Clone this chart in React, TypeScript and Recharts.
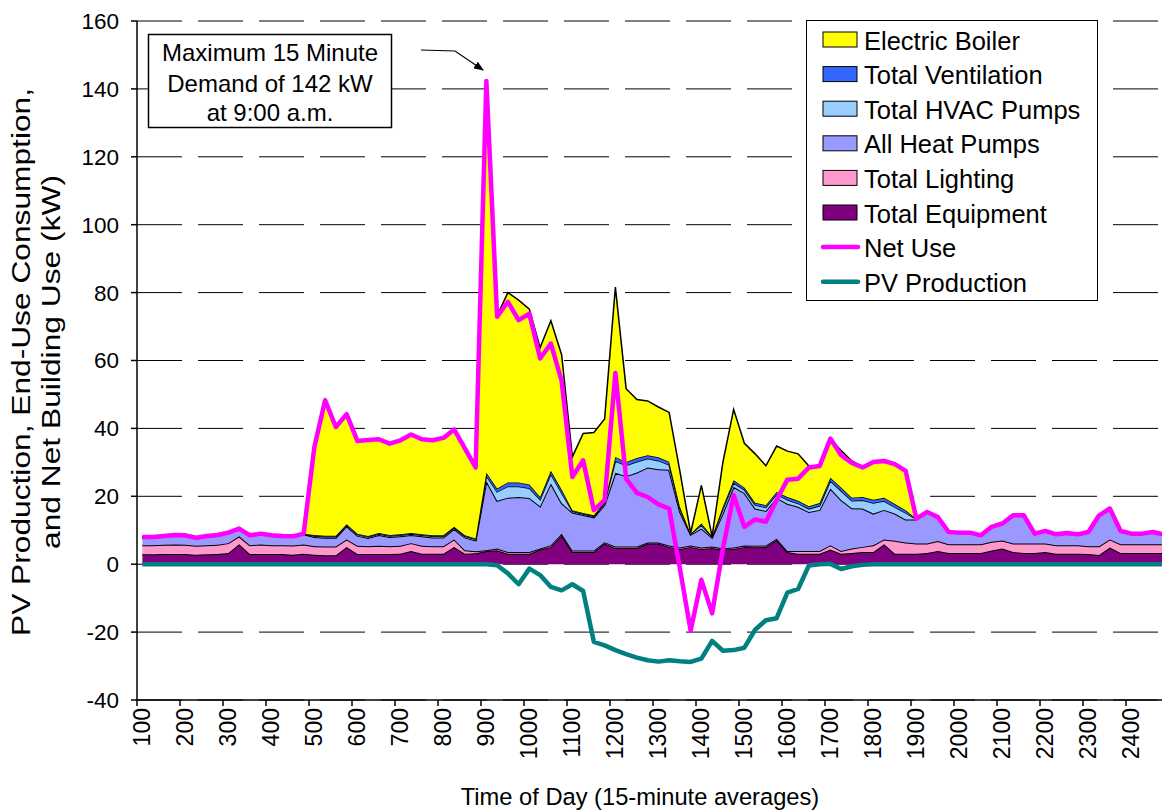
import React from "react";
import { ComposedChart, Area, Line, XAxis, YAxis, CartesianGrid } from "recharts";

// 15-minute interval labels (hhmm without leading zero)
const TIMES = [
  "100", "115", "130", "145", "200", "215", "230", "245", "300", "315", "330", "345",
  "400", "415", "430", "445", "500", "515", "530", "545", "600", "615", "630", "645",
  "700", "715", "730", "745", "800", "815", "830", "845", "900", "915", "930", "945",
  "1000", "1015", "1030", "1045", "1100", "1115", "1130", "1145", "1200", "1215", "1230", "1245",
  "1300", "1315", "1330", "1345", "1400", "1415", "1430", "1445", "1500", "1515", "1530", "1545",
  "1600", "1615", "1630", "1645", "1700", "1715", "1730", "1745", "1800", "1815", "1830", "1845",
  "1900", "1915", "1930", "1945", "2000", "2015", "2030", "2045", "2100", "2115", "2130", "2145",
  "2200", "2215", "2230", "2245", "2300", "2315", "2330", "2345", "2400", "2415", "2430", "2445",
];

const EQUIPMENT = [
  2.9, 2.9, 3.0, 3.0, 3.0, 2.8, 2.9, 3.0, 3.3, 5.9, 3.0, 3.0, 3.0, 3.0, 2.8, 3.1,
  2.8, 2.6, 2.6, 5.1, 3.0, 3.0, 3.0, 3.0, 3.1, 3.9, 3.1, 3.1, 3.1, 5.1, 3.1, 3.2,
  3.9, 4.1, 3.1, 3.1, 3.1, 4.3, 5.1, 8.5, 3.6, 3.6, 3.6, 6.1, 4.8, 4.8, 4.8, 6.1,
  6.1, 5.1, 4.5, 5.1, 4.5, 4.8, 4.3, 4.5, 5.1, 5.0, 5.1, 7.1, 3.6, 3.1, 3.1, 3.1,
  4.3, 3.1, 3.3, 3.6, 3.6, 5.9, 3.1, 3.1, 3.1, 3.3, 3.9, 3.3, 3.3, 3.3, 3.3, 4.0,
  4.6, 3.6, 3.3, 3.3, 3.6, 3.1, 3.1, 3.1, 3.0, 2.7, 4.9, 3.3, 3.3, 3.3, 3.3, 3.3,
];

const LIGHTING = [
  2.7, 2.7, 2.7, 2.8, 2.7, 2.6, 2.7, 2.7, 2.9, 2.3, 2.6, 2.8, 2.6, 2.6, 2.7, 2.7,
  2.5, 2.6, 2.6, 2.2, 2.4, 2.3, 2.4, 2.3, 2.3, 2.3, 2.3, 2.2, 2.2, 2.2, 1.0, 0.6,
  0.2, 0.5, 0.5, 0.5, 0.5, 0.3, 0.5, 0.5, 0.4, 0.4, 0.4, 0.4, 0.4, 0.4, 0.4, 0.3,
  0.3, 0.4, 0.4, 0.4, 0.4, 0.4, 0.4, 0.4, 0.4, 0.4, 0.4, 0.4, 0.3, 0.8, 0.8, 0.8,
  1.3, 0.8, 1.3, 1.5, 2.0, 1.4, 3.8, 3.3, 3.0, 2.8, 2.9, 2.6, 2.6, 2.6, 2.6, 2.6,
  2.4, 2.5, 2.8, 2.8, 2.5, 2.5, 2.5, 2.5, 2.3, 2.6, 2.4, 2.6, 2.6, 2.6, 2.6, 2.6,
];

const HEAT_PUMPS = [
  2.2, 2.2, 2.4, 2.6, 2.6, 2.2, 2.5, 2.7, 2.9, 2.1, 2.7, 3.0, 2.7, 2.5, 2.5, 3.0,
  2.7, 2.6, 2.6, 3.9, 3.0, 2.4, 3.2, 2.7, 2.8, 2.4, 2.8, 2.6, 2.6, 3.1, 3.8, 3.2,
  20.4, 14.1, 16.0, 16.2, 15.9, 12.5, 18.2, 9.0, 11.2, 10.5, 9.8, 11.0, 21.7, 20.7, 21.8, 22.1,
  21.6, 22.3, 10.6, 3.2, 5.6, 2.6, 10.3, 17.9, 15.5, 11.0, 10.2, 12.1, 13.9, 13.0, 11.5, 12.1,
  16.7, 15.0, 11.9, 11.3, 9.3, 8.7, 8.0, 6.8, 7.1, 9.1, 6.9, 3.4, 3.2, 3.2, 2.4, 4.2,
  4.8, 8.1, 8.1, 2.7, 3.5, 3.0, 3.4, 3.0, 4.0, 8.9, 8.9, 3.7, 2.9, 2.9, 3.4, 2.7,
];

const HVAC_PUMPS = [
  0.1, 0.1, 0.1, 0.1, 0.1, 0.1, 0.1, 0.1, 0.1, 0.1, 0.1, 0.1, 0.1, 0.1, 0.1, 0.1,
  0.3, 0.3, 0.3, 0.3, 0.3, 0.3, 0.3, 0.3, 0.3, 0.3, 0.3, 0.3, 0.3, 0.3, 0.3, 0.3,
  1.5, 2.6, 3.3, 3.1, 2.9, 1.9, 2.7, 3.0, 0.4, 0.3, 0.3, 0.5, 3.5, 3.2, 3.2, 2.6,
  2.5, 1.5, 0.9, 0.2, 1.0, 0.2, 1.2, 1.1, 0.9, 1.0, 1.0, 1.0, 1.2, 1.0, 0.9, 1.2,
  2.2, 2.7, 2.2, 2.4, 3.1, 2.6, 1.9, 1.9, 0.1, 0.1, 0.1, 0.1, 0.1, 0.1, 0.1, 0.1,
  0.1, 0.1, 0.1, 0.1, 0.1, 0.1, 0.1, 0.1, 0.1, 0.1, 0.1, 0.1, 0.1, 0.1, 0.1, 0.1,
];

const VENTILATION = [
  0.1, 0.1, 0.1, 0.1, 0.1, 0.1, 0.1, 0.1, 0.1, 0.1, 0.1, 0.1, 0.1, 0.1, 0.1, 0.1,
  0.3, 0.3, 0.3, 0.3, 0.3, 0.3, 0.3, 0.3, 0.3, 0.3, 0.3, 0.3, 0.3, 0.3, 0.3, 0.3,
  0.9, 1.0, 1.2, 1.2, 1.1, 0.8, 1.0, 1.0, 0.3, 0.3, 0.3, 0.4, 1.2, 1.0, 1.1, 1.0,
  1.0, 0.9, 0.5, 0.1, 0.5, 0.2, 0.7, 0.8, 0.7, 0.7, 0.7, 0.7, 0.8, 0.8, 0.8, 0.8,
  1.0, 1.0, 0.9, 1.0, 1.0, 1.0, 0.9, 0.8, 0.1, 0.1, 0.1, 0.1, 0.1, 0.1, 0.1, 0.1,
  0.1, 0.1, 0.1, 0.1, 0.1, 0.1, 0.1, 0.1, 0.1, 0.1, 0.1, 0.1, 0.1, 0.1, 0.1, 0.1,
];

const BOILER = [
  0, 0, 0, 0, 0, 0, 0, 0, 0, 0, 0, 0, 0, 0, 0, 0,
  25.9, 40.0, 32.0, 32.4, 27.3, 28.3, 27.6, 26.9, 27.7, 29.0, 28.0, 28.0, 28.7, 28.7, 25.6, 20.9,
  115.4, 50.9, 55.9, 53.7, 51.6, 44.0, 44.2, 39.7, 15.7, 23.4, 24.4, 24.4, 50.0, 21.6, 17.2, 16.0,
  14.8, 14.5, 10.5, 0.2, 11.2, 0, 13.1, 20.9, 13.0, 14.4, 11.6, 13.5, 13.5, 13.8, 11.8, 10.9,
  11.4, 10.9, 10.8, 8.9, 11.1, 10.8, 11.8, 11.6, 0, 0, 0, 0, 0, 0, 0, 0,
  0, 0, 0, 0, 0, 0, 0, 0, 0, 0, 0, 0, 0, 0, 0, 0,
];

const NET_USE = [
  8.0, 8.0, 8.3, 8.6, 8.5, 7.8, 8.3, 8.6, 9.3, 10.5, 8.5, 9.0, 8.5, 8.3, 8.2, 9.0,
  34.5, 48.3, 40.4, 44.2, 36.3, 36.6, 36.8, 35.5, 36.5, 38.2, 36.8, 36.5, 37.2, 39.7, 34.1, 28.5,
  142.3, 72.9, 77.3, 71.9, 73.8, 60.6, 65.0, 54.0, 25.7, 30.6, 15.9, 18.9, 56.3, 25.2, 21.0, 19.8,
  17.6, 16.4, -1.2, -19.6, -4.6, -14.5, 4.5, 20.3, 11.0, 13.2, 12.5, 18.9, 24.9, 25.2, 28.5, 28.9,
  37.0, 32.1, 29.8, 28.5, 30.1, 30.4, 29.5, 27.5, 13.4, 15.4, 13.9, 9.5, 9.3, 9.3, 8.5, 11.0,
  12.0, 14.4, 14.4, 9.0, 9.8, 8.8, 9.2, 8.8, 9.5, 14.4, 16.4, 9.8, 9.0, 9.0, 9.5, 8.8,
];

const PV_PRODUCTION = [
  0, 0, 0, 0, 0, 0, 0, 0, 0, 0, 0, 0, 0, 0, 0, 0,
  0, 0, 0, 0, 0, 0, 0, 0, 0, 0, 0, 0, 0, 0, 0, 0,
  0, -0.3, -2.7, -5.9, -1.3, -3.2, -6.7, -7.7, -5.9, -7.9, -22.9, -23.9, -25.3, -26.5, -27.5, -28.3,
  -28.7, -28.3, -28.6, -28.8, -27.8, -22.6, -25.5, -25.3, -24.6, -19.3, -16.5, -15.9, -8.4, -7.3, -0.4, 0,
  0.1, -1.4, -0.6, -0.2, 0, 0, 0, 0, 0, 0, 0, 0, 0, 0, 0, 0,
  0, 0, 0, 0, 0, 0, 0, 0, 0, 0, 0, 0, 0, 0, 0, 0,
];

const Y_TICKS = [-40, -20, 0, 20, 40, 60, 80, 100, 120, 140, 160];

const LEGEND_ITEMS = [
  { name: "Electric Boiler", color: "#FFFF00", kind: "box" },
  { name: "Total Ventilation", color: "#3366FF", kind: "box" },
  { name: "Total HVAC Pumps", color: "#99CCFF", kind: "box" },
  { name: "All Heat Pumps", color: "#9999FF", kind: "box" },
  { name: "Total Lighting", color: "#FF99CC", kind: "box" },
  { name: "Total Equipment", color: "#800080", kind: "box" },
  { name: "Net Use", color: "#FF00FF", kind: "line" },
  { name: "PV Production", color: "#008080", kind: "line" },
];

const FONT = "'Liberation Sans', Arial, Helvetica, sans-serif";
const BAND = 1032 / TIMES.length;

const data = TIMES.map((t, i) => ({
  idx: i,
  t,
  equip: EQUIPMENT[i],
  light: LIGHTING[i],
  hp: HEAT_PUMPS[i],
  hvac: HVAC_PUMPS[i],
  vent: VENTILATION[i],
  boiler: BOILER[i],
  net: NET_USE[i],
  pv: PV_PRODUCTION[i],
}));

const xTicks = TIMES.map((_, i) => i).filter((i) => i % 4 === 0);

function TimeTick(props: any) {
  const { x, y, payload } = props;
  const axisY = y - 8;
  const tx = x - BAND / 2;
  return (
    <g>
      <line x1={tx} x2={tx} y1={axisY} y2={axisY + 6} stroke="#000" strokeWidth={1.5} />
      <text
        transform={`translate(${x},${axisY + 8}) rotate(-90)`}
        textAnchor="end"
        dominantBaseline="central"
        fontSize={23}
        fontFamily={FONT}
        fill="#000"
      >
        {TIMES[payload.value]}
      </text>
    </g>
  );
}

function Overlay() {
  return (
    <svg
      width={1162}
      height={810}
      style={{ position: "absolute", left: 0, top: 0, pointerEvents: "none" }}
      fontFamily={FONT}
    >
      <defs>
        <marker id="arrowHead" markerWidth="10" markerHeight="8" refX="9" refY="4" orient="auto" markerUnits="userSpaceOnUse">
          <path d="M0,0 L10,4 L0,8 z" fill="#000" />
        </marker>
      </defs>

      {/* axis titles */}
      <text
        transform="translate(21,362) rotate(-90)"
        textAnchor="middle"
        dominantBaseline="central"
        fontSize={25}
        textLength={548}
        lengthAdjust="spacingAndGlyphs"
      >
        PV Production, End-Use Consumption,
      </text>
      <text
        transform="translate(51,362) rotate(-90)"
        textAnchor="middle"
        dominantBaseline="central"
        fontSize={25}
        textLength={374}
        lengthAdjust="spacingAndGlyphs"
      >
        and Net Building Use (kW)
      </text>
      <text x={640} y={797} textAnchor="middle" dominantBaseline="central" fontSize={23.7}>
        Time of Day (15-minute averages)
      </text>

      {/* peak annotation */}
      <rect x={148.5} y={34.5} width={243} height={93} fill="#fff" stroke="#000" strokeWidth={1.5} />
      <text x={270} y={52} textAnchor="middle" dominantBaseline="central" fontSize={24}>Maximum 15 Minute</text>
      <text x={270} y={83} textAnchor="middle" dominantBaseline="central" fontSize={24}>Demand of 142 kW</text>
      <text x={270} y={112} textAnchor="middle" dominantBaseline="central" fontSize={24}>at 9:00 a.m.</text>
      <polyline points="421,50 455,51 483,70" fill="none" stroke="#000" strokeWidth={1.2} markerEnd="url(#arrowHead)" />

      {/* legend */}
      <rect x={806.5} y={20.5} width={291} height={280} fill="#fff" stroke="#000" strokeWidth={1} />
      {LEGEND_ITEMS.map((item, k) => {
        const cy = 39.5 + k * 34.6;
        return (
          <g key={item.name}>
            {item.kind === "box" ? (
              <rect x={823} y={cy - 7.5} width={34} height={15} fill={item.color} stroke="#000" strokeWidth={1} />
            ) : (
              <line x1={823} x2={858} y1={cy} y2={cy} stroke={item.color} strokeWidth={4.5} strokeLinecap="round" />
            )}
            <text x={864} y={cy + 1} dominantBaseline="central" fontSize={25.5}>
              {item.name}
            </text>
          </g>
        );
      })}
    </svg>
  );
}

export default function App() {
  return (
    <div
      style={{
        position: "absolute",
        left: 0,
        top: 0,
        width: 1162,
        height: 810,
        overflow: "hidden",
        background: "#fff",
      }}
    >
      <ComposedChart
        width={1175}
        height={810}
        data={data}
        margin={{ top: 21, right: 6, bottom: 0, left: 0 }}
      >
        <CartesianGrid vertical={false} stroke="#000" strokeWidth={1} strokeDasharray="45 16" />
        <XAxis
          type="number"
          dataKey="idx"
          domain={[-0.5, TIMES.length - 0.5]}
          ticks={xTicks}
          interval={0}
          allowDataOverflow
          height={110}
          axisLine={{ stroke: "#000", strokeWidth: 1.5 }}
          tickLine={false}
          tick={<TimeTick />}
        />
        <YAxis
          width={137}
          domain={[-40, 160]}
          ticks={Y_TICKS}
          interval={0}
          allowDataOverflow
          axisLine={{ stroke: "#000", strokeWidth: 1.5 }}
          tickLine={{ stroke: "#000", strokeWidth: 1.5 }}
          tickSize={6}
          tickMargin={12}
          tick={{ fill: "#000", fontSize: 22.5, fontFamily: FONT }}
        />
        <Area type="linear" dataKey="equip" stackId="s" stroke="#000" strokeWidth={2} fill="#800080" fillOpacity={1} isAnimationActive={false} />
        <Area type="linear" dataKey="light" stackId="s" stroke="#000" strokeWidth={2} fill="#FF99CC" fillOpacity={1} isAnimationActive={false} />
        <Area type="linear" dataKey="hp" stackId="s" stroke="#000" strokeWidth={2} fill="#9999FF" fillOpacity={1} isAnimationActive={false} />
        <Area type="linear" dataKey="hvac" stackId="s" stroke="#000" strokeWidth={1.5} fill="#99CCFF" fillOpacity={1} isAnimationActive={false} />
        <Area type="linear" dataKey="vent" stackId="s" stroke="#000" strokeWidth={1.5} fill="#3366FF" fillOpacity={1} isAnimationActive={false} />
        <Area type="linear" dataKey="boiler" stackId="s" stroke="#000" strokeWidth={1.5} fill="#FFFF00" fillOpacity={1} isAnimationActive={false} />
        <Line type="linear" dataKey="pv" stroke="#008080" strokeWidth={4.5} strokeLinejoin="round" dot={false} isAnimationActive={false} />
        <Line type="linear" dataKey="net" stroke="#FF00FF" strokeWidth={4.5} strokeLinejoin="round" dot={false} isAnimationActive={false} />
      </ComposedChart>
      <Overlay />
    </div>
  );
}
